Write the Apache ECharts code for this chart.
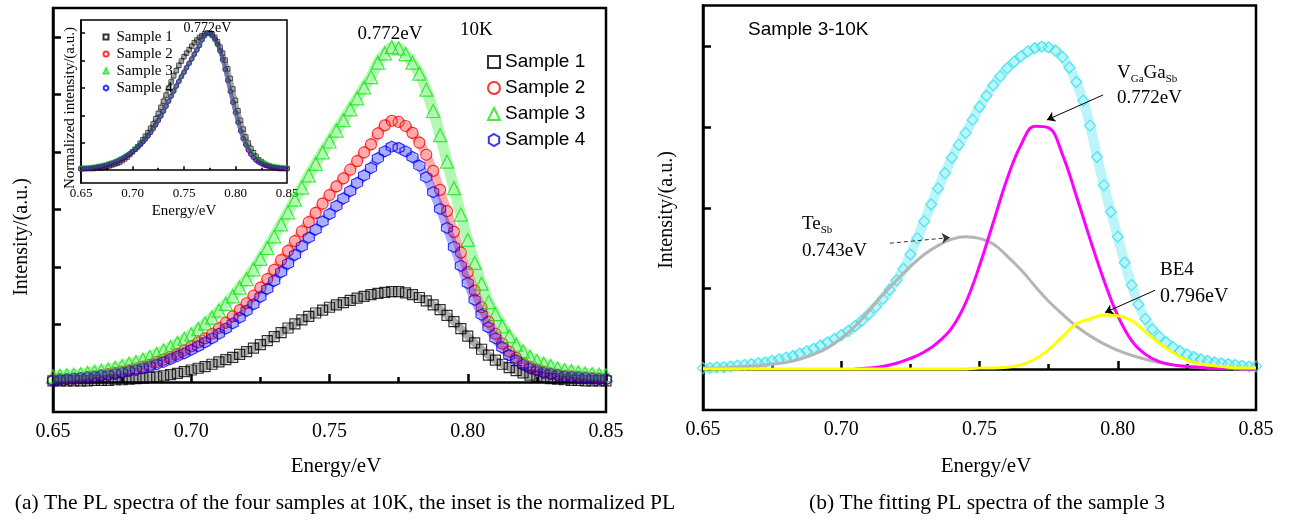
<!DOCTYPE html>
<html>
<head>
	<meta charset="utf-8" />
	<title>PL spectra</title>
	<script src="https://cdn.jsdelivr.net/npm/echarts@6/dist/echarts.min.js"></script>
	<style>
		html, body {margin:0;padding:0;background:#fff;}
		#chart {width:1292px;height:520px;}
	</style>
</head>
<body>
	<div id="chart"></div>
	<script>
		var SERIF = "'Liberation Serif', 'Times New Roman', serif";
		var SANS  = "'Liberation Sans', Arial, sans-serif";

		// energy grids (eV)
		var energyFine = [];	// 0.65 .. 0.85, step 0.0025 (markers)
		for (var i = 0; i <= 80; i++) energyFine.push(Math.round((0.65 + i * 0.0025) * 10000) / 10000);
		var energyFit = [];		// 0.65 .. 0.85, step 0.005 (fit lines)
		for (var j = 0; j <= 40; j++) energyFit.push(Math.round((0.65 + j * 0.005) * 1000) / 1000);
		var energyVGa = energyFit.slice(11);	// 0.705 .. 0.85

		// (a) PL intensity, 10K
		var sample1 = [0.02,0.02,0.02,0.02,0.02,0.02,0.03,0.03,0.03,0.04,
			0.04,0.05,0.06,0.07,0.08,0.09,0.11,0.13,0.15,0.18,
			0.21,0.24,0.27,0.31,0.35,0.39,0.43,0.48,0.53,0.59,
			0.65,0.72,0.79,0.86,0.94,1.01,1.08,1.14,1.20,1.25,
			1.30,1.34,1.38,1.42,1.46,1.49,1.52,1.54,1.56,1.57,
			1.57,1.55,1.52,1.47,1.41,1.34,1.26,1.16,1.05,0.93,
			0.80,0.68,0.57,0.47,0.38,0.31,0.25,0.20,0.16,0.12,
			0.10,0.08,0.06,0.05,0.04,0.03,0.03,0.02,0.02,0.02,
			0.02];
		var sample2 = [0.04,0.05,0.05,0.06,0.07,0.09,0.10,0.12,0.14,0.16,
			0.18,0.21,0.24,0.27,0.30,0.35,0.39,0.44,0.49,0.55,
			0.62,0.69,0.76,0.84,0.94,1.03,1.14,1.25,1.37,1.50,
			1.64,1.79,1.95,2.12,2.28,2.45,2.62,2.78,2.94,3.10,
			3.25,3.40,3.54,3.69,3.84,3.99,4.13,4.32,4.46,4.54,
			4.52,4.45,4.33,4.16,3.95,3.67,3.34,2.97,2.61,2.25,
			1.91,1.59,1.30,1.05,0.84,0.67,0.53,0.42,0.33,0.27,
			0.22,0.18,0.15,0.13,0.11,0.10,0.09,0.08,0.07,0.06,
			0.05];
		var sample3 = [0.10,0.11,0.12,0.13,0.14,0.16,0.18,0.20,0.22,0.25,
			0.28,0.32,0.35,0.39,0.44,0.49,0.55,0.61,0.68,0.75,
			0.83,0.92,1.02,1.12,1.24,1.36,1.49,1.64,1.79,1.96,
			2.14,2.33,2.53,2.74,2.95,3.17,3.38,3.59,3.79,3.99,
			4.18,4.37,4.55,4.74,4.93,5.12,5.30,5.55,5.71,5.82,
			5.80,5.70,5.55,5.36,5.08,4.71,4.29,3.83,3.37,2.91,
			2.47,2.07,1.71,1.39,1.18,0.97,0.80,0.65,0.53,0.44,
			0.37,0.32,0.28,0.24,0.21,0.19,0.17,0.15,0.14,0.13,
			0.12];
		var sample4 = [0.03,0.04,0.05,0.06,0.07,0.08,0.09,0.11,0.12,0.14,
			0.16,0.19,0.21,0.24,0.27,0.31,0.35,0.40,0.45,0.50,
			0.56,0.62,0.69,0.76,0.84,0.93,1.02,1.12,1.24,1.35,
			1.48,1.62,1.76,1.91,2.06,2.21,2.36,2.51,2.65,2.79,
			2.92,3.06,3.19,3.32,3.46,3.59,3.72,3.89,4.01,4.09,
			4.07,4.01,3.91,3.76,3.56,3.30,3.01,2.68,2.35,2.02,
			1.72,1.43,1.17,0.95,0.76,0.60,0.47,0.38,0.30,0.24,
			0.20,0.16,0.14,0.12,0.10,0.09,0.08,0.07,0.06,0.05,
			0.05];

		// (b) sample 3 measured + fitted peaks
		var fitData = [0.01,0.01,0.02,0.02,0.03,0.04,0.05,0.06,0.07,0.08,
			0.10,0.12,0.14,0.16,0.19,0.22,0.25,0.29,0.33,0.37,
			0.42,0.47,0.53,0.60,0.68,0.77,0.87,0.98,1.10,1.24,
			1.42,1.62,1.83,2.04,2.24,2.43,2.62,2.78,2.93,3.09,
			3.25,3.39,3.52,3.63,3.73,3.81,3.88,3.94,3.98,4.00,
			3.99,3.95,3.87,3.74,3.56,3.33,3.02,2.63,2.28,1.95,
			1.64,1.32,1.04,0.80,0.62,0.49,0.40,0.33,0.27,0.22,
			0.18,0.15,0.12,0.10,0.08,0.07,0.06,0.05,0.04,0.03,
			0.03];
		var fitTeSb = [0.01,0.01,0.02,0.03,0.04,0.06,0.08,0.12,0.18,0.26,
			0.38,0.53,0.72,0.92,1.10,1.27,1.42,1.53,1.61,1.64,
			1.62,1.55,1.40,1.23,1.03,0.84,0.68,0.53,0.41,0.31,
			0.23,0.17,0.12,0.08,0.05,0.03,0.02,0.01,0.01,0.00,
			0.00];
		var fitVGaGaSb = [0.00,0.01,0.03,0.07,0.13,0.21,0.33,0.51,0.82,1.28,
			1.82,2.36,2.78,3.01,2.99,2.66,2.15,1.61,1.10,0.66,
			0.35,0.18,0.09,0.05,0.03,0.02,0.01,0.01,0.00,0.00];
		var fitBE4 = [0.00,0.00,0.00,0.00,0.00,0.00,0.00,0.00,0.00,0.00,
			0.00,0.00,0.00,0.00,0.00,0.00,0.00,0.00,0.00,0.00,
			0.01,0.01,0.02,0.05,0.12,0.24,0.40,0.56,0.62,0.67,
			0.66,0.60,0.46,0.32,0.20,0.11,0.06,0.04,0.02,0.01,
			0.01];

		// annotation arrows in (b): [fromE, fromI, toE, toI]
		var arrowTeSb  = [0.7176, 1.56, 0.7393, 1.63];
		var arrowVGa   = [0.7947, 3.40, 0.7744, 3.09];
		var arrowBE4   = [0.8135, 0.976, 0.7954, 0.70];

		var sampleNames = ['Sample 1', 'Sample 2', 'Sample 3', 'Sample 4'];
		var insetNames  = {i1: 'Sample 1', i2: 'Sample 2', i3: 'Sample 3', i4: 'Sample 4'};
		var sampleColors = ['#000000', '#ff0000', '#14e614', '#0000ff'];
		var HEX = 'path://M0,-1 L0.866,-0.5 L0.866,0.5 L0,1 L-0.866,0.5 L-0.866,-0.5 Z';
		var sampleSymbols = ['rect', 'circle', 'triangle', HEX];
		var sampleSizes = [10, 11, 13, 11];
		var samples = [sample1, sample2, sample3, sample4];

		function pairs(xs, ys) {
			return ys.map(function(v, k) { return [xs[k], v]; });
		}
		function normalize(ys) {
			var m = Math.max.apply(null, ys);
			return ys.map(function(v) { return v / m; });
		}

		function xAxisOf(grid, fs, tickLen, minorLen, lw, margin) {
			return {
				gridIndex: grid, type: 'value', min: 0.65, max: 0.85, interval: 0.05,
				axisLine: {lineStyle: {color: '#000', width: lw}},
				axisTick: {inside: true, length: tickLen, lineStyle: {color: '#000', width: lw}},
				minorTick: {show: true, splitNumber: 2, length: minorLen, lineStyle: {color: '#000', width: lw}},
				axisLabel: {fontFamily: SERIF, fontSize: fs, color: '#000', margin: margin,
					formatter: function(v) { return v.toFixed(2); }},
				splitLine: {show: false}, minorSplitLine: {show: false}
			};
		}
		function yAxisOf(grid, min, max, ticks, tickLen, lw) {
			return {
				gridIndex: grid, type: 'value', min: min, max: max,
				axisLine: {show: true, lineStyle: {color: '#000', width: lw}},
				axisTick: {show: true, inside: true, length: tickLen, customValues: ticks, lineStyle: {color: '#000', width: lw}},
				axisLabel: {show: false},
				splitLine: {show: false}
			};
		}

		// dense symbol band: faint wide line under the hollow markers
		function band(xi, data, color, width, opacity) {
			return {
				type: 'line', xAxisIndex: xi, yAxisIndex: xi, silent: true, showSymbol: false,
				smooth: 0.3, lineStyle: {color: color, width: width, opacity: opacity},
				data: data
			};
		}
		function markers(name, xi, data, symbol, size, color, bw) {
			return {
				name: name, type: 'scatter', xAxisIndex: xi, yAxisIndex: xi, silent: true,
				symbol: symbol, symbolSize: size,
				itemStyle: {color: 'rgba(0,0,0,0)', borderColor: color, borderWidth: bw},
				data: data
			};
		}

		var series = [];
		samples.forEach(function(s, k) {
			var d = pairs(energyFine, s);
			series.push(band(0, d, sampleColors[k], sampleSizes[k] - 2, 0.33));
			series.push(markers(sampleNames[k], 0, d, sampleSymbols[k], sampleSizes[k], sampleColors[k], 1.2));
		});
		samples.forEach(function(s, k) {
			var d = pairs(energyFine, normalize(s));
			series.push(band(1, d, sampleColors[k], 4, 0.35));
			series.push(markers('i' + (k + 1), 1, d, sampleSymbols[k], 4.5, sampleColors[k], 0.8));
		});
		var cyanData = pairs(energyFine, fitData);
		series.push(band(2, cyanData, '#30e2ee', 10, 0.33));
		series.push(markers('data', 2, cyanData, 'diamond', 11, '#30e2ee', 1.2));
		series.push({
			name: 'TeSb', type: 'line', xAxisIndex: 2, yAxisIndex: 2, showSymbol: false, silent: true,
			smooth: 0.4,
			lineStyle: {color: '#b5b5b5', width: 3},
			data: pairs(energyFit, fitTeSb),
			markLine: {
				silent: true, symbol: ['none', 'arrow'], symbolSize: 8,
				label: {show: false},
				lineStyle: {color: '#000', width: 1, type: 'solid'},
				data: [
					[{coord: [arrowTeSb[0], arrowTeSb[1]], lineStyle: {type: [4, 3], color: '#333'}}, {coord: [arrowTeSb[2], arrowTeSb[3]]}],
					[{coord: [arrowVGa[0], arrowVGa[1]]}, {coord: [arrowVGa[2], arrowVGa[3]]}],
					[{coord: [arrowBE4[0], arrowBE4[1]]}, {coord: [arrowBE4[2], arrowBE4[3]]}]
				]
			}
		});
		series.push({
			name: 'VGaGaSb', type: 'line', xAxisIndex: 2, yAxisIndex: 2, showSymbol: false, silent: true,
			smooth: 0.4,
			lineStyle: {color: '#ff00ff', width: 3},
			data: pairs(energyVGa, fitVGaGaSb)
		});
		series.push({
			name: 'BE4', type: 'line', xAxisIndex: 2, yAxisIndex: 2, showSymbol: false, silent: true,
			smooth: 0.4,
			lineStyle: {color: '#ffff00', width: 3},
			data: pairs(energyFit, fitBE4)
		});

		function txt(x, y, text, size, family, opts) {
			var o = {
				type: 'text', x: x, y: y, z: 10, silent: true,
				style: {text: text, fontSize: size, fontFamily: family, fill: '#000',
					align: (opts && opts.align) || 'center', verticalAlign: 'middle'}
			};
			if (opts && opts.rotate) o.rotation = Math.PI / 2;
			if (opts && opts.rich) o.style.rich = opts.rich;
			return o;
		}
		var subRich = {
			m: {fontSize: 19, fontFamily: SERIF, lineHeight: 24, fill: '#000'},
			s: {fontSize: 11, fontFamily: SERIF, lineHeight: 10, verticalAlign: 'bottom', fill: '#000'}
		};

		var chart = echarts.init(document.getElementById('chart'));
		chart.setOption({
			animation: false,
			backgroundColor: '#fff',
			grid: [
				{left: 53, top: 8, width: 553, height: 404, show: true, borderColor: '#000', borderWidth: 2.5},
				{left: 81, top: 20, width: 206, height: 163, show: true, borderColor: '#000', borderWidth: 1.5, backgroundColor: '#fff'},
				{left: 703, top: 5.5, width: 553, height: 404.5, show: true, borderColor: '#000', borderWidth: 2.5}
			],
			xAxis: [
				xAxisOf(0, 20, 8, 5, 2.5, 10),
				xAxisOf(1, 13, 4, 2.5, 1.5, 4),
				xAxisOf(2, 20, 8, 5, 2.5, 10)
			],
			yAxis: [
				yAxisOf(0, -0.52, 6.5, [0, 1, 2, 3, 4, 5, 6], 8, 2.5),
				yAxisOf(1, -0.093, 1.095, [0.2, 0.4, 0.6, 0.8, 1.0], 4, 1.5),
				yAxisOf(2, -0.51, 4.51, [0, 1, 2, 3, 4], 8, 2.5)
			],
			legend: [
				{
					data: sampleNames, orient: 'vertical', left: 482, top: 47,
					itemWidth: 12, itemHeight: 12, itemGap: 6, selectedMode: false,
					textStyle: {fontFamily: SANS, fontSize: 19, color: '#000', lineHeight: 20}
				},
				{
					data: ['i1', 'i2', 'i3', 'i4'], orient: 'vertical', left: 97.5, top: 24,
					itemWidth: 5, itemHeight: 5, itemGap: 1, selectedMode: false,
					formatter: function(n) { return insetNames[n]; },
					textStyle: {fontFamily: SERIF, fontSize: 15, color: '#000', lineHeight: 16, padding: [0, 0, 0, 3]}
				}
			],
			graphic: [
				txt(22, 237, 'Intensity/(a.u.)', 20, SERIF, {rotate: true}),
				txt(70, 108, 'Normalized intensity/(a.u.)', 15, SERIF, {rotate: true}),
				txt(184, 211, 'Energy/eV', 15, SERIF),
				txt(336, 466, 'Energy/eV', 21, SERIF),
				txt(345, 503, '(a) The PL spectra of the four samples at 10K, the inset is the normalized PL', 21.5, SERIF),
				txt(390, 34, '0.772eV', 19, SERIF),
				txt(460, 30, '10K', 19, SERIF, {align: 'left'}),
				txt(207.5, 28, '0.772eV', 14, SERIF),
				txt(667, 210, 'Intensity/(a.u.)', 20, SERIF, {rotate: true}),
				txt(986, 466, 'Energy/eV', 21, SERIF),
				txt(987, 503, '(b) The fitting PL spectra of the sample 3', 21.5, SERIF),
				txt(748, 30, 'Sample 3-10K', 19, SANS, {align: 'left'}),
				txt(802, 224, '{m|Te}{s|Sb}', 19, SERIF, {align: 'left', rich: subRich}),
				txt(802, 251.5, '0.743eV', 19, SERIF, {align: 'left'}),
				txt(1117, 73, '{m|V}{s|Ga}{m|Ga}{s|Sb}', 19, SERIF, {align: 'left', rich: subRich}),
				txt(1117, 98.5, '0.772eV', 19, SERIF, {align: 'left'}),
				txt(1160, 270.5, 'BE4', 19, SERIF, {align: 'left'}),
				txt(1160, 296.5, '0.796eV', 20, SERIF, {align: 'left'})
			],
			series: series
		});
	</script>
</body>
</html>
